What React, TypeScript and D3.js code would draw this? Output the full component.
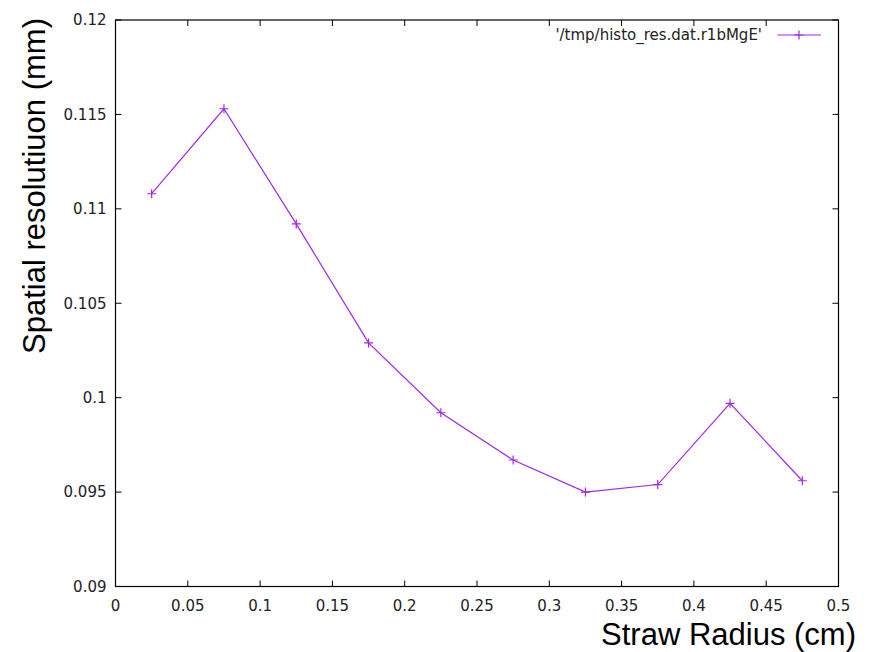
import React from "react";
import * as d3 from "d3";

const xValues = [0.025, 0.075, 0.125, 0.175, 0.225, 0.275, 0.325, 0.375, 0.425, 0.475];
const yValues = [0.1108, 0.1153, 0.1092, 0.1029, 0.0992, 0.0967, 0.0950, 0.0954, 0.0997, 0.0956];
const xTicks = [0, 0.05, 0.1, 0.15, 0.2, 0.25, 0.3, 0.35, 0.4, 0.45, 0.5];
const xTickLabels = ["0", "0.05", "0.1", "0.15", "0.2", "0.25", "0.3", "0.35", "0.4", "0.45", "0.5"];
const yTicks = [0.09, 0.095, 0.1, 0.105, 0.11, 0.115, 0.12];
const yTickLabels = ["0.09", "0.095", "0.1", "0.105", "0.11", "0.115", "0.12"];
const legendLabel = "'/tmp/histo_res.dat.r1bMgE'";
const xTitle = "Straw Radius (cm)";
const yTitle = "Spatial resolutiuon (mm)";

const W = 870, H = 652;
const L = 115.5, R = 838.5, T = 20, B = 586.5;
const color = "#a028e8";
const tickFont = "'DejaVu Sans', sans-serif";
const titleFont = "'Liberation Sans', Arial, sans-serif";

export default function App() {
  const x = d3.scaleLinear().domain([0, 0.5]).range([L, R]);
  const y = d3.scaleLinear().domain([0.09, 0.12]).range([B, T]);
  const line = d3.line<number>().x((_, i) => x(xValues[i])).y((d) => y(d));
  const tl = 6;
  const ps = 4.5;
  const plus = (cx: number, cy: number, k: string | number) => (
    <path key={k} d={`M${cx - ps},${cy}H${cx + ps}M${cx},${cy - ps}V${cy + ps}`} stroke={color} strokeWidth={1.2} fill="none" />
  );
  return (
    <svg width={W} height={H} style={{ position: "absolute", left: 0, top: 0 }}>
      <rect width={W} height={H} fill="#fff" />
      {xTicks.map((t, i) => (
        <g key={"xt" + i}>
          <line x1={x(t)} x2={x(t)} y1={B} y2={B - tl} stroke="#000" />
          <line x1={x(t)} x2={x(t)} y1={T} y2={T + tl} stroke="#000" />
          <text x={x(t)} y={611} textAnchor="middle" fontFamily={tickFont} fontSize={15} fill="#222">{xTickLabels[i]}</text>
        </g>
      ))}
      {yTicks.map((t, i) => (
        <g key={"yt" + i}>
          <line x1={L} x2={L + tl} y1={y(t)} y2={y(t)} stroke="#000" />
          <line x1={R} x2={R - tl} y1={y(t)} y2={y(t)} stroke="#000" />
          <text x={106.5} y={y(t)} dy="0.36em" textAnchor="end" fontFamily={tickFont} fontSize={15} fill="#222">{yTickLabels[i]}</text>
        </g>
      ))}
      <rect x={L} y={T} width={R - L} height={B - T} fill="none" stroke="#000" strokeWidth={1.2} />
      <path d={line(yValues) || ""} fill="none" stroke={color} strokeWidth={1.2} />
      {yValues.map((v, i) => plus(x(xValues[i]), y(v), i))}
      <text x={762} y={35} dy="0.36em" textAnchor="end" fontFamily={tickFont} fontSize={15} fill="#222">{legendLabel}</text>
      <line x1={777.5} x2={821} y1={35} y2={35} stroke={color} strokeWidth={1.2} />
      {plus(799, 35, "leg")}
      <text x={856} y={645} textAnchor="end" fontFamily={titleFont} fontSize={31} fill="#000">{xTitle}</text>
      <text transform={`translate(45,${(T + 352) / 2}) rotate(-90)`} x={0} y={0} textAnchor="middle" fontFamily={titleFont} fontSize={31} fill="#000">{yTitle}</text>
    </svg>
  );
}
